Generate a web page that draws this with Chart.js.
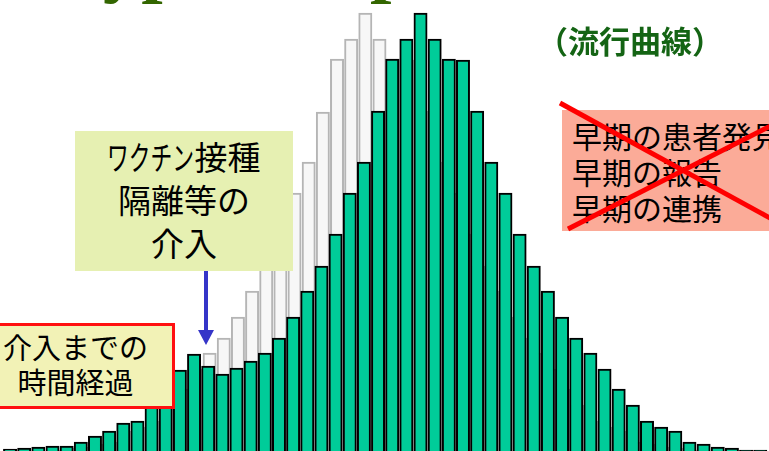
<!DOCTYPE html>
<html lang="ja">
<head>
<meta charset="utf-8">
<title>流行曲線</title>
<script src="https://cdn.jsdelivr.net/npm/chart.js@4.4.1/dist/chart.umd.min.js"></script>
<style>
  html, body { margin: 0; padding: 0; background: #fff; overflow: hidden; }
  #wrap { position: relative; width: 769px; height: 451px; overflow: hidden; }
  #chart { position: absolute; left: 0; top: 0; }
  .title { position: absolute; left: 57px; top: -76px; white-space: nowrap;
           font: bold 77px/1 "Liberation Serif", serif; color: #336600; }
  .jp { position: absolute; box-sizing: border-box; white-space: nowrap;
        font-family: "Noto Sans CJK JP", sans-serif; color: #000; }
  .sub { left: 537px; top: 16px; font-size: 31px; line-height: 48px; font-weight: bold; color: #146414; }
  .box1 { left: 75px; top: 131px; width: 218px; height: 140px; background: #e6f0b2;
          text-align: center; font-size: 33px; line-height: 43px; padding-top: 4px; }
  .kana { display: inline-block; transform: scaleX(0.66); transform-origin: left center; margin-right: -1.36em; }
  .box2 { left: -24px; top: 323px; width: 199px; height: 86px; background: #f2f2b6;
          border: 3px solid #ff1010; text-align: center; font-size: 29px; line-height: 35px; padding-top: 3px; }
  .box3 { left: 562px; top: 110px; width: 260px; height: 121px; background: #fbab98;
          font-size: 30px; line-height: 36px; padding: 7px 0 0 10px; }
  svg { position: absolute; left: 0; top: 0; }
</style>
</head>
<body>
<div id="wrap">
  <canvas id="chart" width="769" height="451"></canvas>
  <div class="title">Typical Epidemic Curve</div>
  <div class="jp sub">（流行曲線）</div>
  <div class="jp box1"><span class="kana">ワクチン</span>接種<br>隔離等の<br>介入</div>
  <div class="jp box2">介入までの<br>時間経過</div>
  <div class="jp box3">早期の患者発見<br>早期の報告<br>早期の連携</div>
  <svg width="769" height="451">
    <line x1="206" y1="271" x2="206" y2="332" stroke="#3535c8" stroke-width="4"/>
    <polygon points="198,330 214,330 206,345" fill="#3535c8"/>
    <line x1="560" y1="103" x2="790" y2="229" stroke="#ff0000" stroke-width="5"/>
    <line x1="568" y1="229" x2="790" y2="116" stroke="#ff0000" stroke-width="5"/>
  </svg>
</div>
<script>
// 患者数（実際の流行）
var greenValues = [3, 4, 5, 6, 6, 10, 16, 21, 29, 31, 49, 63, 82, 98, 86, 78, 84, 91, 99, 114,
  135, 161, 186, 218, 259, 290, 341, 393, 413, 439, 413, 393, 392, 341, 290, 259, 218, 186, 161, 135,
  114, 99, 83, 63, 47, 31, 25, 21, 10, 8, 5, 4, 2, 2];
// 患者数（早期介入なしの流行）
var grayValues = [2, 4, 5, 8, 10, 21, 25, 31, 47, 63, 83, 99, 114, 135, 161, 186, 218, 259, 290, 340,
  393, 413, 439, 413, 393, 392, 341, 290, 259, 218, 186, 161, 135, 114, 99, 83, 63, 47, 31, 25,
  21, 10, 8, 5, 4, 2];
var days = greenValues.map(function (v, i) { return i; });
var grayStart = 2.16;   // 灰色の流行の開始日
var xMin = -1.18, xMax = 53.15;

var greenData = greenValues.map(function (v, i) { return { x: days[i], y: v }; });
var grayData = grayValues.map(function (v, j) { return { x: grayStart + j, y: v }; });

var ctx = document.getElementById('chart').getContext('2d');
var chart = new Chart(ctx, {
  type: 'bar',
  data: {
    datasets: [{
      label: '患者数',
      data: greenData,
      xAxisID: 'x',
      backgroundColor: '#00cc99',
      borderColor: '#000000',
      borderWidth: 2,
      barThickness: 13.3
    }, {
      label: '患者数（比較）',
      data: grayData,
      xAxisID: 'x2',
      backgroundColor: '#f7f7f7',
      borderColor: '#b5b5b5',
      borderWidth: 2,
      barThickness: 13.3
    }]
  },
  options: {
    responsive: false,
    animation: false,
    layout: { padding: 0 },
    plugins: { legend: { display: false }, tooltip: { enabled: false }, title: { display: false } },
    scales: {
      x: { type: 'linear', min: xMin, max: xMax, offset: false, display: false },
      x2: { type: 'linear', axis: 'x', min: xMin, max: xMax, offset: false, display: false },
      y: { type: 'linear', min: 1, max: 452, beginAtZero: false, display: false }
    }
  }
});
</script>
</body>
</html>
